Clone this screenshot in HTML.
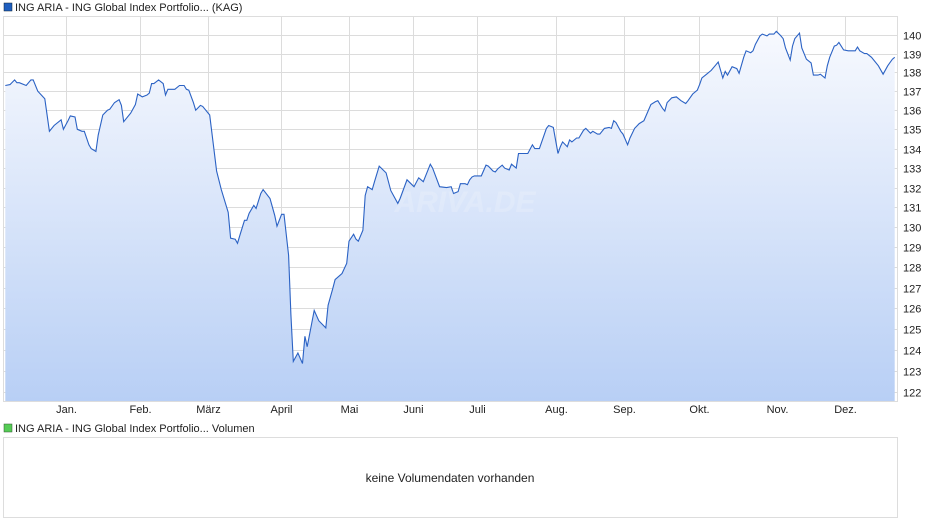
<!DOCTYPE html>
<html><head><meta charset="utf-8"><style>
body{margin:0;background:#fff;font-family:"Liberation Sans",sans-serif;}
svg{display:block}
text{font-family:"Liberation Sans",sans-serif;font-size:11px;fill:#222}
</style></head><body>
<svg id="chart" width="940" height="526">
<defs><linearGradient id="fg" x1="0" y1="0" x2="0" y2="1"><stop offset="0" stop-color="#f7f9fe"/><stop offset="1" stop-color="#b8cff5"/></linearGradient></defs>
<rect x="4" y="3" width="8" height="8" fill="#1f5fbf" stroke="#123" stroke-width="0.5"/>
<text x="15" y="11">ING ARIA - ING Global Index Portfolio... (KAG)</text>
<g id="grid"></g>
<path id="area" fill="url(#fg)"/>
<path id="line" fill="none" stroke="#2b62c4" stroke-width="1.1"/>
<text x="465" y="212" style="font-size:30px;font-style:italic;font-weight:bold;fill:#ffffff;opacity:0.18" text-anchor="middle">ARIVA.DE</text>
<rect x="3.5" y="16.5" width="894" height="385" fill="none" stroke="#ddd"/>
<g id="axes"></g>
<rect x="4" y="424" width="8" height="8" fill="#5c5" stroke="#353" stroke-width="0.5"/>
<text x="15" y="432">ING ARIA - ING Global Index Portfolio... Volumen</text>
<rect x="3.5" y="437.5" width="894" height="80" fill="#fff" stroke="#ddd"/>
<text x="450" y="482" text-anchor="middle" style="font-size:12px">keine Volumendaten vorhanden</text>
</svg>
<script>
const days=[-27,-25,-23,-22,-21,-18,-16,-15,-13,-10,-8,-6,-3,-2,0,1,3,4,6,7,9,10,12,13,15,17,18,20,22,23,24,27,29,30,32,34,35,36,37,39,41,42,43,46,48,50,51,52,54,55,57,58,61,64,66,69,70,72,73,74,76,77,78,80,81,83,84,87,89,90,92,93,95,96,97,99,101,102,103,105,106,108,111,112,114,115,118,120,121,123,124,125,127,128,129,131,132,134,137,139,142,143,146,149,151,153,156,157,160,163,165,166,168,169,171,172,173,174,175,178,180,181,183,184,185,187,188,190,191,193,194,196,198,200,201,203,206,207,209,211,212,213,215,216,217,219,220,222,223,225,226,228,229,231,233,234,235,236,238,239,241,242,244,246,248,251,253,254,256,257,258,260,262,264,266,267,269,271,272,273,275,277,279,280,282,283,284,286,288,289,291,292,294,295,296,298,299,301,302,304,305,307,308,309,311,312,313,315,316,318,320,321,323,324,326,327,328,330,331,332,334,336,339,340,341,343,344,346,349,351,353,355,356];
const prices=[137.3,137.35,137.6,137.45,137.45,137.3,137.6,137.6,137.0,136.6,134.9,135.2,135.5,135.0,135.45,135.7,135.65,135.0,134.9,134.9,134.2,134.0,133.85,134.7,135.75,136.0,136.05,136.4,136.55,136.25,135.4,135.85,136.3,136.85,136.7,136.8,136.9,137.4,137.4,137.6,137.4,136.8,137.1,137.1,137.3,137.3,137.1,137.05,136.4,136.0,136.25,136.2,135.75,132.85,131.9,130.75,129.45,129.4,129.2,129.6,130.35,130.35,130.7,131.1,130.95,131.7,131.9,131.45,130.6,130.05,130.65,130.65,128.6,125.7,123.45,123.85,123.35,124.65,124.15,125.3,125.9,125.4,125.05,126.15,126.95,127.4,127.7,128.2,129.3,129.65,129.4,129.3,129.85,131.6,132.05,131.9,132.3,133.1,132.75,131.85,131.2,131.45,132.4,132.05,132.5,132.3,133.2,133.0,132.05,132.0,132.05,131.7,131.8,132.2,132.2,132.15,132.4,132.55,132.6,132.6,133.15,133.1,132.85,132.8,132.95,133.15,133.0,132.9,133.2,133.0,133.75,133.75,133.75,134.2,134.0,134.0,135.05,135.2,135.1,133.75,134.1,134.35,134.1,134.45,134.35,134.55,134.55,134.95,135.05,134.8,134.9,134.75,134.75,135.05,135.1,135.05,135.45,135.35,134.9,134.75,134.2,134.55,135.05,135.3,135.45,136.3,136.45,136.5,136.1,135.95,136.4,136.65,136.7,136.5,136.35,136.5,136.85,137.05,137.35,137.7,137.9,138.1,138.4,138.55,137.7,138.05,137.85,138.3,138.2,137.95,138.8,139.15,139.05,139.15,139.5,139.95,140.05,139.95,140.05,140.05,140.2,139.95,139.8,139.3,138.65,139.4,139.8,140.1,139.3,138.7,138.5,137.85,137.85,137.9,137.7,138.35,138.8,139.4,139.45,139.6,139.2,139.15,139.15,139.35,139.15,139.0,139.0,138.8,138.35,137.9,138.35,138.7,138.8];
const monthLabels=["Jan.","Feb.","März","April","Mai","Juni","Juli","Aug.","Sep.","Okt.","Nov.","Dez."];
const monthDays=[-1,31,60.3,91.7,121,148.6,176.1,210.2,239.4,271.7,305.3,334.6];
const yTicks=[122,123,124,125,126,127,128,129,130,131,132,133,134,135,136,137,138,139,140];
const NS="http://www.w3.org/2000/svg";
const X0=3,X1=897,D0=-28,D1=357;
const xs=d=>X0+(d-D0)*(X1-X0)/(D1-D0);
const Y140=35,Y122=392,K=(Y122-Y140)/(Math.log(140)-Math.log(122));
const ys=v=>Y140+(Math.log(140)-Math.log(v))*K;
const grid=document.getElementById('grid'),axes=document.getElementById('axes');
function mk(tag,at,parent){const e=document.createElementNS(NS,tag);for(const k in at)e.setAttribute(k,at[k]);parent.appendChild(e);return e;}
yTicks.forEach(v=>{const y=Math.round(ys(v))+0.5;
const l=mk('line',{x1:3,x2:897,y1:y,y2:y,stroke:'#dcdcdc'},grid);


const t=mk('text',{x:903,y:y+4},axes);t.textContent=v;

});
monthDays.forEach((d,i)=>{const x=Math.round(xs(d))+0.5;
const l=mk('line',{x1:x,x2:x,y1:16,y2:401,stroke:'#dcdcdc'},grid);


const t=mk('text',{x:x,y:413,'text-anchor':'middle'},axes);t.textContent=monthLabels[i];

});
let p='';days.forEach((d,i)=>{p+=(i?'L':'M')+xs(d).toFixed(1)+','+ys(prices[i]).toFixed(1);});
document.getElementById('line').setAttribute('d',p);
document.getElementById('area').setAttribute('d',p+'L'+xs(days[days.length-1]).toFixed(1)+',401L'+xs(days[0]).toFixed(1)+',401Z');
</script>
</body></html>
